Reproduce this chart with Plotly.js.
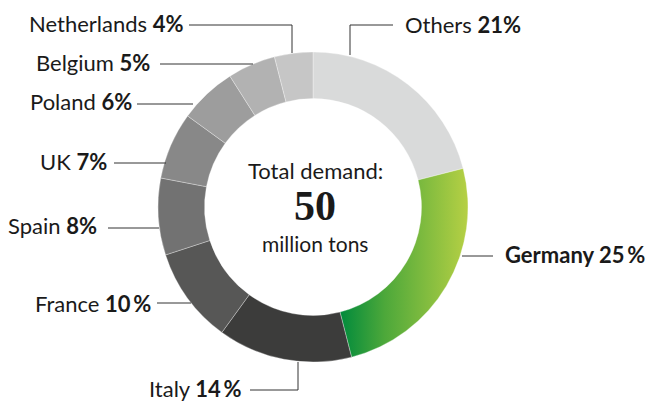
<!DOCTYPE html>
<html><head><meta charset="utf-8">
<script src="https://cdn.plot.ly/plotly-3.0.1.min.js"></script>
<style>html,body{margin:0;padding:0;background:#fff}</style>
</head><body><div id="chart" style="width:648px;height:401px"></div>
<script>
// ---- data ----
const countries = ['Others','Germany','Italy','France','Spain','UK','Poland','Belgium','Netherlands'];
const shares = [21, 25, 14, 10, 8, 7, 6, 5, 4];
const shareLabels = ['21%', '25\u2009%', '14\u2009%', '10\u2009%', '8%', '7%', '6%', '5%', '4%'];
const sliceColors = ['#d9dada','#6fb43f','#3c3c3b','#575756','#727272','#888888','#9d9d9d','#b2b2b2','#c6c6c6'];
const centerLines = ['Total demand:', '50', 'million tons'];

// ---- layout helpers (pixel -> paper) ----
const W = 648, H = 401;
const px = x => x / W, py = y => 1 - y / H;
const FS = 22, FONT = 'Lato, "Open Sans", sans-serif';

// label placement: [textEdgeX, baselineY, side, leader path points]
const place = {
  'Netherlands': [184, 31, 'L', [[189,25],[292,25],[292,53]]],
  'Belgium':     [151, 70, 'L', [[160,64],[253,64]]],
  'Poland':      [133, 109,'L', [[137,104],[193,104]]],
  'UK':          [108, 169,'L', [[114,163],[166,163]]],
  'Spain':       [98,  233,'L', [[108,228],[159,228]]],
  'France':      [152, 311,'L', [[157,303],[191,303]]],
  'Italy':       [243, 396,'L', [[250,390],[298,390],[298,362]]],
  'Others':      [404, 32, 'R', [[350,55],[350,25],[393,25]]],
  'Germany':     [504, 262,'R', [[462,256],[493,256]]]
};

const annotations = [];
const shapes = [];
countries.forEach((c, i) => {
  const p = place[c];
  const txt = c === 'Germany' ? '<b>' + c + ' ' + shareLabels[i] + '</b>'
                              : c + ' <b>' + shareLabels[i] + '</b>';
  annotations.push({
    xref: 'paper', yref: 'paper', x: px(p[0]), y: py(p[1] - 0.35 * FS),
    xanchor: p[2] === 'L' ? 'right' : 'left', yanchor: 'middle',
    text: txt, showarrow: false, borderpad: 0,
    font: {family: FONT, size: FS, color: '#1a1a1a'}
  });
  const pts = p[3];
  const d = pts.map((q, k) => (k ? 'L' : 'M') + px(q[0]) + ',' + py(q[1])).join(' ');
  shapes.push({type: 'path', xref: 'paper', yref: 'paper', path: d,
    line: {color: '#333333', width: 1}});
});

// center text
const centerSpec = [
  {base: 178, size: FS, fam: FONT, txt: centerLines[0]},
  {base: 221, size: 42, fam: '"Liberation Serif", "Times New Roman", serif', txt: '<b>' + centerLines[1] + '</b>'},
  {base: 251, size: 21, fam: FONT, txt: centerLines[2]}
];
centerSpec.forEach(s => annotations.push({
  xref: 'paper', yref: 'paper', x: px(315), y: py(s.base - 0.35 * s.size),
  xanchor: 'center', yanchor: 'middle', showarrow: false, borderpad: 0,
  text: s.txt, font: {family: s.fam, size: s.size, color: '#1a1a1a'}
}));

const trace = {
  type: 'pie', labels: countries, values: shares,
  sort: false, direction: 'clockwise', rotation: 0, hole: 0.70,
  textinfo: 'none', hoverinfo: 'label+percent', showlegend: false,
  marker: {colors: sliceColors, line: {color: 'rgba(255,255,255,0.45)', width: 0.7}},
  domain: {x: [px(158), px(468)], y: [py(362), py(52)]}
};

const layout = {
  width: W, height: H, margin: {l: 0, r: 0, t: 0, b: 0},
  paper_bgcolor: '#ffffff', plot_bgcolor: '#ffffff',
  showlegend: false, annotations: annotations, shapes: shapes
};

Plotly.newPlot('chart', [trace], layout, {displayModeBar: false, staticPlot: true}).then(gd => {
  // gradient fill for the Germany slice
  const svg = gd.querySelector('svg.main-svg');
  const NS = 'http://www.w3.org/2000/svg';
  let defs = svg.querySelector('defs');
  if (!defs) { defs = document.createElementNS(NS, 'defs'); svg.insertBefore(defs, svg.firstChild); }
  const lg = document.createElementNS(NS, 'linearGradient');
  lg.setAttribute('id', 'deGrad');
  lg.setAttribute('x1', '0'); lg.setAttribute('y1', '0');
  lg.setAttribute('x2', '1'); lg.setAttribute('y2', '0');
  [['0', '#008a3c'], ['0.35', '#4da83a'], ['1', '#b6d044']].forEach(s => {
    const st = document.createElementNS(NS, 'stop');
    st.setAttribute('offset', s[0]); st.setAttribute('stop-color', s[1]);
    lg.appendChild(st);
  });
  defs.appendChild(lg);
  const slices = gd.querySelectorAll('g.slice path.surface');
  const gi = countries.indexOf('Germany');
  if (slices[gi]) slices[gi].style.fill = 'url(#deGrad)';
});
</script></body></html>
